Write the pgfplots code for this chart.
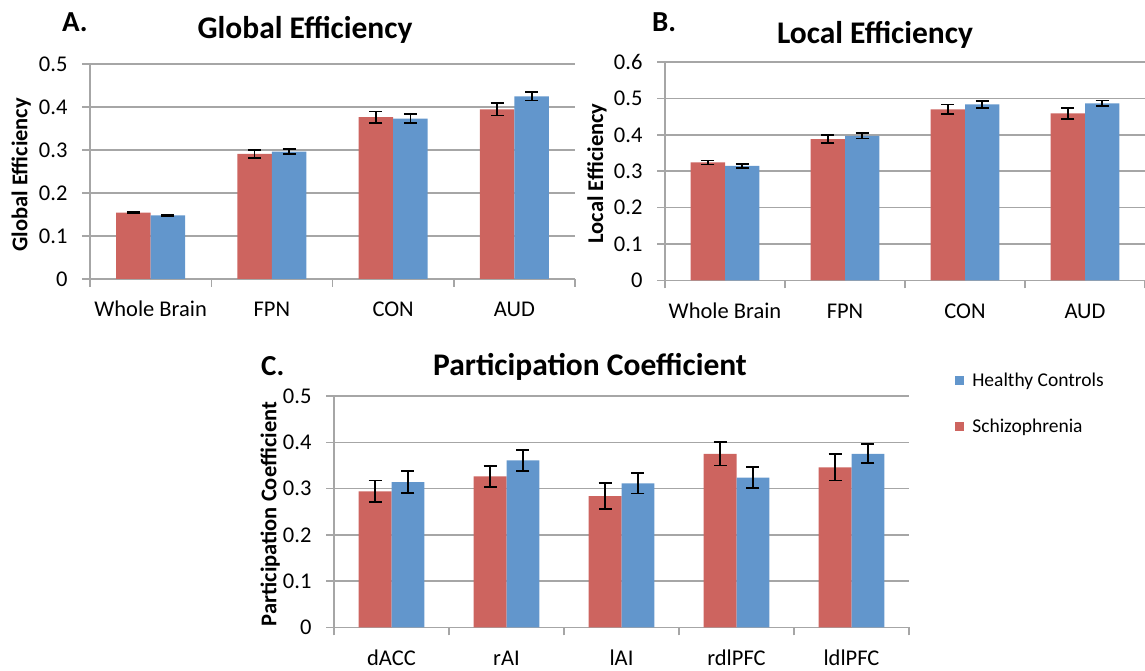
\documentclass[border=0pt]{standalone}
\usepackage{pgfplots}
\usepackage{pgfplotstable}
\pgfplotsset{compat=1.18}
\usepackage{fontspec}
\setmainfont{Carlito}
\definecolor{szred}{RGB}{205,100,95}
\definecolor{hcblue}{RGB}{98,150,204}
\definecolor{gridgray}{RGB}{166,166,166}

\pgfplotstableread{
x sz sze hc hce
0 0.1545 0.002 0.148 0.002
1 0.291 0.0097 0.296 0.0054
2 0.3765 0.0128 0.3727 0.0105
3 0.3944 0.014 0.4247 0.0097
}\globaltab
\pgfplotstableread{
x sz sze hc hce
0 0.324 0.0055 0.3147 0.005
1 0.388 0.011 0.397 0.0073
2 0.4697 0.0133 0.4835 0.010
3 0.4587 0.015 0.486 0.008
}\localtab
\pgfplotstableread{
x sz sze hc hce
0 0.294 0.0237 0.314 0.0234
1 0.3266 0.023 0.361 0.023
2 0.284 0.0273 0.3115 0.0223
3 0.3748 0.025 0.3237 0.0223
4 0.346 0.0284 0.375 0.0205
}\parttab

\pgfplotsset{
  excel/.style={
    scale only axis,
    anchor=south west,
    ybar=0pt,
    axis lines=left,
    axis line style={-, gridgray, line width=1.5pt},
    ymajorgrids,
    grid style={gridgray, line width=1.5pt},
    ymin=0,
    tick align=outside,
    major tick length=8pt,
    tick style={gridgray, line width=1.5pt},
    xticklabels={},
    /pgf/number format/assume math mode=true,
    tick label style={font=\fontsize{22.5}{25}\selectfont},
    yticklabel style={xshift=-11pt},
    extra x tick style={major tick length=0pt, xticklabel style={anchor=base, yshift=-38pt}},
    ylabel style={anchor=center, font=\bfseries\fontsize{22.5}{25}\selectfont},
    clip=false,
  },
  errs/.style={error bars/.cd, y dir=both, y explicit,
    error bar style={line width=1.8pt, black},
    error mark options={rotate=90, mark size=6.5pt, line width=1.8pt, black}},
}

\begin{document}
\begin{tikzpicture}
\path[use as bounding box] (0pt,0pt) rectangle (1145pt,671pt);

% Panel A
\begin{axis}[excel, at={(90pt,392pt)}, width=485pt, height=215pt,
  xmin=-0.5, xmax=3.5, ymax=0.5, ytick={0,0.1,0.2,0.3,0.4,0.5},
  xtick={-0.5,0.5,1.5,2.5,3.5},
  extra x ticks={0,1,2,3},
  extra x tick labels={Whole Brain,FPN,CON,AUD},
  bar width=34.6pt,
  ylabel={Global Efficiency},
  ylabel style={at={(axis description cs:-0.142,0.485)}}]
\addplot[fill=szred, draw=none, errs] table[x=x, y=sz, y error=sze]{\globaltab};
\addplot[fill=hcblue, draw=none, errs] table[x=x, y=hc, y error=hce]{\globaltab};
\end{axis}

% Panel B
\begin{axis}[excel, at={(665pt,390.6pt)}, width=480pt, height=218.4pt,
  xmin=-0.5, xmax=3.5, ymax=0.6, ytick={0,0.1,0.2,0.3,0.4,0.5,0.6},
  xtick={-0.5,0.5,1.5,2.5,3.5},
  extra x ticks={0,1,2,3},
  extra x tick labels={Whole Brain,FPN,CON,AUD},
  bar width=34.3pt,
  ylabel={Local Efficiency},
  ylabel style={at={(axis description cs:-0.1417,0.49)}}]
\addplot[fill=szred, draw=none, errs] table[x=x, y=sz, y error=sze]{\localtab};
\addplot[fill=hcblue, draw=none, errs] table[x=x, y=hc, y error=hce]{\localtab};
\end{axis}

% Panel C
\begin{axis}[excel, at={(334pt,43.5pt)}, width=575pt, height=231.5pt,
  xmin=-0.5, xmax=4.5, ymax=0.5, ytick={0,0.1,0.2,0.3,0.4,0.5},
  xtick={-0.5,0.5,1.5,2.5,3.5,4.5},
  extra x ticks={0,1,2,3,4},
  extra x tick labels={dACC,rAI,lAI,rdlPFC,ldlPFC},
  bar width=32.9pt,
  ylabel={Participation Coefficient},
  ylabel style={at={(axis description cs:-0.111,0.49)}},
  reverse legend,
  legend cell align=left,
  legend style={at={(1.075,1.12)}, anchor=north west, draw=none, fill=none,
    font=\fontsize{19.5}{22}\selectfont, row sep=25pt,
    nodes={inner sep=3pt}}]
\addplot[fill=szred, draw=none,
  legend image code/.code={\fill[szred] (0pt,-4.5pt) rectangle (9pt,4.5pt);}, errs]
  table[x=x, y=sz, y error=sze]{\parttab};
\addlegendentry{\hspace{5pt}Schizophrenia}
\addplot[fill=hcblue, draw=none,
  legend image code/.code={\fill[hcblue] (0pt,-4.5pt) rectangle (9pt,4.5pt);}, errs]
  table[x=x, y=hc, y error=hce]{\parttab};
\addlegendentry{\hspace{5pt}Healthy Controls}
\end{axis}

% Titles and panel letters
\node[anchor=base, font=\bfseries\fontsize{31.5}{35}\selectfont] at (305pt,632pt) {Global Efficiency};
\node[anchor=base west, inner sep=0pt, font=\bfseries\fontsize{29}{32}\selectfont] at (62pt,639pt) {A.};
\node[anchor=base, font=\bfseries\fontsize{31.5}{35}\selectfont] at (875pt,627pt) {Local Efficiency};
\node[anchor=base west, inner sep=0pt, font=\bfseries\fontsize{29}{32}\selectfont] at (652pt,639pt) {B.};
\node[anchor=base, font=\bfseries\fontsize{31.5}{35}\selectfont] at (590pt,295pt) {Participation Coefficient};
\node[anchor=base west, inner sep=0pt, font=\bfseries\fontsize{29}{32}\selectfont] at (261pt,295pt) {C.};
\end{tikzpicture}
\end{document}
